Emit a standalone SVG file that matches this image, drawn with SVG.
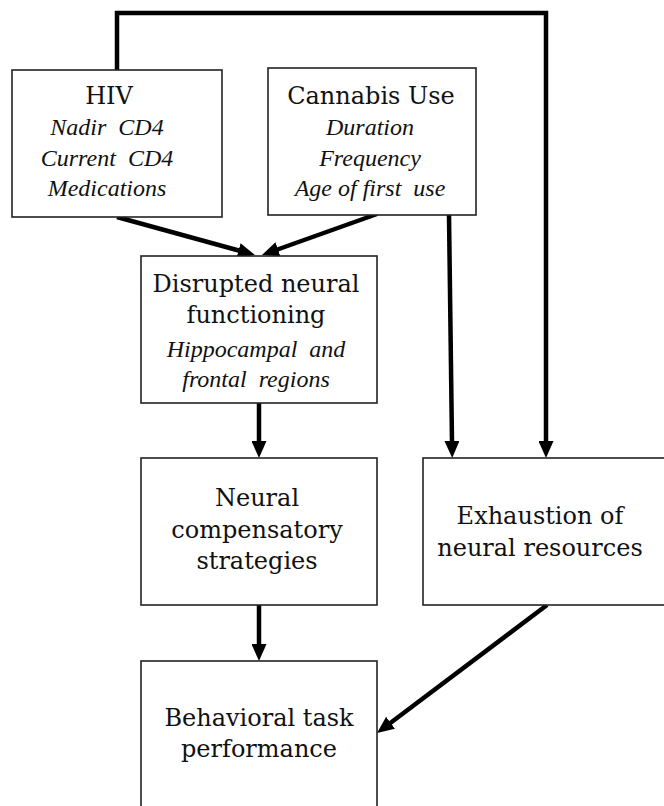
<svg xmlns="http://www.w3.org/2000/svg" width="664" height="806" viewBox="0 0 664 806">
<defs>
<style>
.box{fill:#fff;stroke:#222;stroke-width:1.6}
.t{font-family:"DejaVu Serif","Liberation Serif",serif;font-size:24px;fill:#111;text-anchor:middle}
.i{font-family:"Liberation Serif","DejaVu Serif",serif;font-style:italic;font-size:24px;fill:#111;text-anchor:middle;white-space:pre}
.c{fill:none;stroke:#000;stroke-width:4.5;marker-end:url(#ah)}
</style>
<marker id="ah" markerUnits="userSpaceOnUse" markerWidth="17" markerHeight="15" viewBox="0 0 17 15" refX="2" refY="7.5" orient="auto">
<path d="M0,0 L17,7.5 L0,15 z" fill="#000"/>
</marker>
</defs>
<rect width="664" height="806" fill="#fff"/>
<g id="connectors">
<path class="c" d="M117,70 V13 H546 V443"/>
<path class="c" d="M449,215 L452,443"/>
<path class="c" d="M117,217 L240.5,251"/>
<path class="c" d="M377,214 L276.1,250"/>
<path class="c" d="M259,403 V443"/>
<path class="c" d="M259,605 V646"/>
<path class="c" d="M547,605 L389,724"/>
</g>
<g id="hiv">
<rect class="box" x="12" y="70" width="210" height="147"/>
<text class="t" x="109" y="104" font-size="25">HIV</text>
<text class="i" x="107" y="135" xml:space="preserve">Nadir  CD4</text>
<text class="i" x="107" y="166" xml:space="preserve">Current  CD4</text>
<text class="i" x="107" y="196">Medications</text>
</g>
<g id="cannabis">
<rect class="box" x="268" y="68" width="208" height="147"/>
<text class="t" x="371" y="104" font-size="25">Cannabis Use</text>
<text class="i" x="370" y="135">Duration</text>
<text class="i" x="370" y="166">Frequency</text>
<text class="i" x="370" y="196" xml:space="preserve">Age of first  use</text>
</g>
<g id="disrupted">
<rect class="box" x="141" y="256" width="236" height="147"/>
<text class="t" x="256" y="292">Disrupted neural</text>
<text class="t" x="256" y="323">functioning</text>
<text class="i" x="256" y="357" xml:space="preserve">Hippocampal  and</text>
<text class="i" x="256" y="387" xml:space="preserve">frontal  regions</text>
</g>
<g id="compensatory">
<rect class="box" x="141" y="458" width="236" height="147"/>
<text class="t" x="257" y="506">Neural</text>
<text class="t" x="257" y="538">compensatory</text>
<text class="t" x="257" y="569">strategies</text>
</g>
<g id="exhaustion">
<rect class="box" x="423" y="458" width="250" height="147"/>
<text class="t" x="540" y="524">Exhaustion of</text>
<text class="t" x="540" y="556">neural resources</text>
</g>
<g id="behavioral">
<rect class="box" x="141" y="661" width="236" height="160"/>
<text class="t" x="259" y="726">Behavioral task</text>
<text class="t" x="259" y="757">performance</text>
</g>
</svg>
